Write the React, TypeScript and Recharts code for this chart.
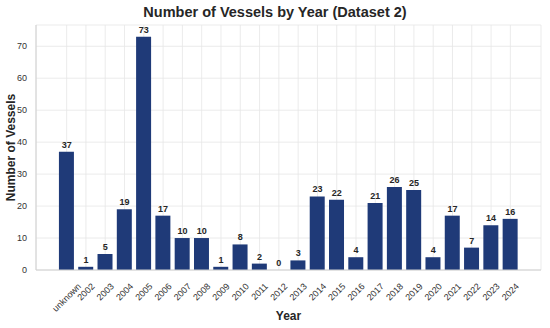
import React from "react";
import { ComposedChart, Bar, Line, XAxis, YAxis, CartesianGrid, LabelList } from "recharts";

const categories = ["unknown","2002","2003","2004","2005","2006","2007","2008","2009","2010","2011","2012","2013","2014","2015","2016","2017","2018","2019","2020","2021","2022","2023","2024"];
const vessels = [37,1,5,19,73,17,10,10,1,8,2,0,3,23,22,4,21,26,25,4,17,7,14,16];
const yTicks = [0,10,20,30,40,50,60,70];

const data = categories.map((c, i) => ({ year: c, count: vessels[i] }));

const FONT = "'Liberation Sans', Arial, sans-serif";
const TICK_SIZE = 9;

let ctx: CanvasRenderingContext2D | null = null;
function measure(text: string): number {
  if (!ctx) {
    const c = document.createElement("canvas");
    ctx = c.getContext("2d");
  }
  if (!ctx) return text.length * TICK_SIZE * 0.55;
  ctx.font = `${TICK_SIZE}px 'Liberation Sans', Arial, sans-serif`;
  return ctx.measureText(text).width;
}

const XTick = (props: any) => {
  const { x, y, payload } = props;
  const label = String(payload.value);
  const w = measure(label);
  const h = TICK_SIZE * 1.15;
  const c = Math.SQRT1_2;
  const pad = 3;
  const cy = y + pad + ((w + h) * c) / 2;
  return (
    <text
      x={x}
      y={cy}
      dy="0.35em"
      textAnchor="middle"
      transform={`rotate(-45, ${x}, ${cy})`}
      fontSize={TICK_SIZE}
      fontFamily={FONT}
      fill="#333333"
    >
      {label}
    </text>
  );
};

export default function App() {
  return (
    <div style={{ position: "absolute", left: 0, top: 0, width: 550, height: 328, background: "#fff" }}>
      <div style={{ position: "absolute", left: 0, top: 3, width: 550, textAlign: "center", fontFamily: FONT, fontWeight: "bold", fontSize: 14.5, color: "#262626", lineHeight: "18px" }}>
        Number of Vessels by Year (Dataset 2)
      </div>
      <div style={{ position: "absolute", left: 0, top: 0 }}>
        <ComposedChart
          width={550}
          height={328}
          data={data}
          margin={{ top: 25, right: 9, left: 0, bottom: 0 }}
          barCategoryGap="10%"
        >
          <CartesianGrid stroke="#e6e6e6" strokeWidth={0.8} vertical horizontal />
          <XAxis
            dataKey="year"
            height={58}
            interval={0}
            padding={{ left: 21, right: 21 }}
            tick={<XTick />}
            tickLine={false}
            axisLine={{ stroke: "#d0d0d0", strokeWidth: 1 }}
            label={{ value: "Year", position: "insideBottom", offset: 8, fontSize: 12, fontWeight: "bold", fill: "#262626", fontFamily: FONT }}
          />
          <YAxis
            width={36}
            domain={[0, 76.65]}
            ticks={yTicks}
            interval={0}
            tickLine={false}
            tick={{ fontSize: TICK_SIZE, fill: "#333333", fontFamily: FONT }}
            tickMargin={3}
            axisLine={{ stroke: "#d0d0d0", strokeWidth: 1 }}
            label={{ value: "Number of Vessels", angle: -90, position: "insideLeft", offset: 11, textAnchor: "middle", fontSize: 12, fontWeight: "bold", fill: "#262626", fontFamily: FONT }}
          />
          <Bar dataKey="count" fill="#1f3a78" isAnimationActive={false} />
          <Line dataKey="count" stroke="none" dot={false} activeDot={false} isAnimationActive={false} legendType="none">
            <LabelList dataKey="count" position="top" offset={4} fontSize={9} fontWeight="bold" fill="#262626" fontFamily={FONT} />
          </Line>
        </ComposedChart>
      </div>
    </div>
  );
}
